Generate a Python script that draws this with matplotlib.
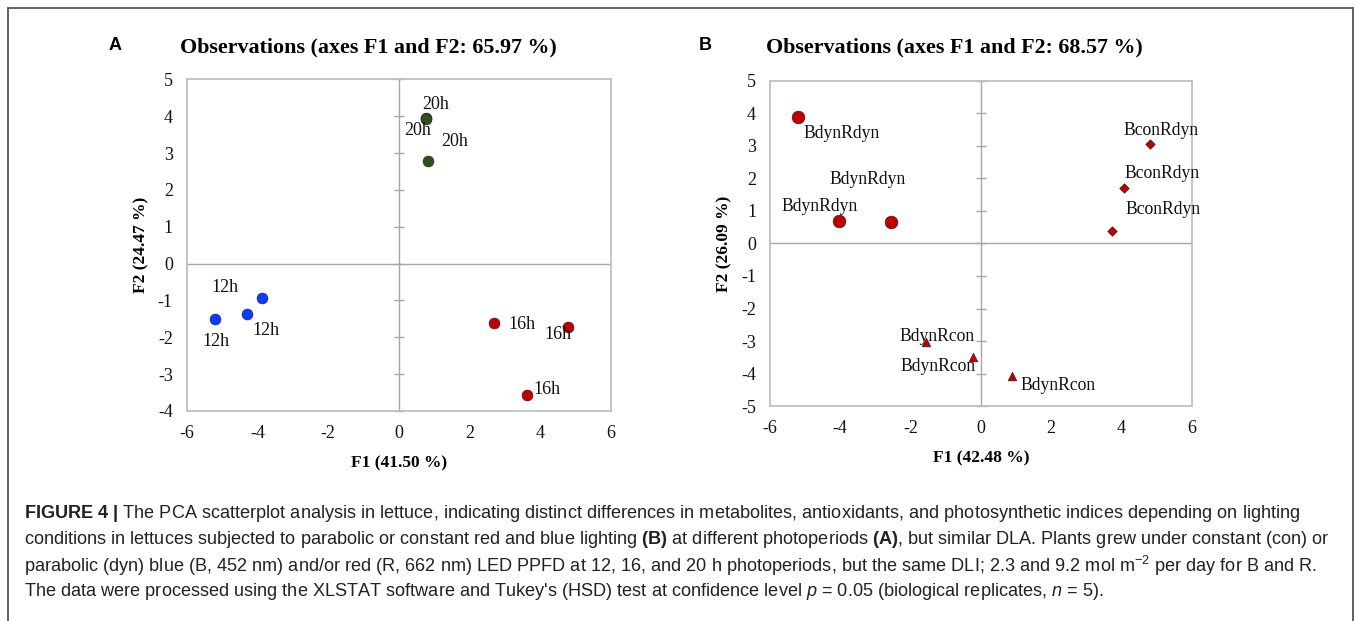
import matplotlib
matplotlib.use("Agg")
import matplotlib.pyplot as plt
from matplotlib.patches import Rectangle

plt.rcParams['font.family'] = ['Liberation Serif', 'DejaVu Serif']
plt.rcParams['axes.unicode_minus'] = False
plt.rcParams['mathtext.fontset'] = 'custom'
plt.rcParams['mathtext.rm'] = 'Liberation Sans'
plt.rcParams['mathtext.bf'] = 'Liberation Sans:bold'
plt.rcParams['mathtext.it'] = 'Liberation Sans:italic'

# panel A: photoperiods
a_labels = ["12h", "12h", "12h", "16h", "16h", "16h", "20h", "20h", "20h"]
a_f1 = [-3.86, -4.29, -5.20, 2.69, 4.79, 3.61, 0.76, 0.76, 0.83]
a_f2 = [-0.93, -1.37, -1.50, -1.61, -1.73, -3.56, 3.94, 3.92, 2.79]
a_colors = {"12h": "#0a3cff", "16h": "#c00000", "20h": "#2f4f1c"}
# label offsets in pixels (dx, dy up)
a_offsets = [(-37, 10), (19, -16), (1, -23), (28, -2), (-10, -7), (20, 5), (10, 14), (-8, -11), (26, 19)]

# panel B: lighting modes
b_labels = ["BdynRdyn"] * 3 + ["BconRdyn"] * 3 + ["BdynRcon"] * 3
b_f1 = [-5.19, -4.03, -2.56, 4.82, 4.07, 3.74, -1.57, -0.22, 0.89]
b_f2 = [3.90, 0.68, 0.65, 3.05, 1.72, 0.38, -3.02, -3.50, -4.08]
b_markers = {"BdynRdyn": ("o", 85), "BconRdyn": ("D", 24), "BdynRcon": ("^", 40)}
b_offsets = [(43, -17), (-20, 15), (-23, 43), (11, 14), (38, 14), (51, 22), (11, 5), (-35, -9), (46, -9)]

fig = plt.figure(figsize=(13.57, 6.21), dpi=100)


def draw_panel(ax, xs, ys, labels, offsets, colors, markers, ylim, yticks, xlabel, ylabel, lab_size):
    for x, y, lab, off in zip(xs, ys, labels, offsets):
        if markers:
            m, s = markers[lab]
            c = "#c00000"
        else:
            m, s = "o", 62
            c = colors[lab]
        ax.scatter(x, y, marker=m, s=s, color=c, edgecolor="#222222", linewidth=0.4, zorder=3)
        ax.annotate(lab, (x, y), xytext=off, textcoords="offset pixels",
                    ha="center", va="center", fontsize=lab_size, color="#111111")
    ax.set_xlim(-6, 6)
    ax.set_ylim(*ylim)
    ax.set_xticks(range(-6, 7, 2))
    ax.set_yticks(yticks)
    ax.axhline(0, color="#a6a6a6", lw=1.0, zorder=1)
    ax.axvline(0, color="#a6a6a6", lw=1.0, zorder=1)
    ax.scatter([0] * len(yticks), yticks, marker="_", s=60, color="#a6a6a6", lw=1.0, zorder=1, clip_on=False)
    for sp in ax.spines.values():
        sp.set_color("#c0c0c0")
        sp.set_linewidth(1.3)
    ax.tick_params(length=0, labelsize=13, pad=10, colors="#111111")
    ax.set_xlabel(xlabel, fontsize=12.5, fontweight="bold", labelpad=10)
    ax.set_ylabel(ylabel, fontsize=12.5, fontweight="bold", labelpad=6)


axA = fig.add_axes([0.1376, 0.3382, 0.3127, 0.5341])
draw_panel(axA, a_f1, a_f2, a_labels, a_offsets, a_colors, None, (-4, 5), list(range(-4, 6)),
           "F1 (41.50 %)", "F2 (24.47 %)", 13)

axB = fig.add_axes([0.5674, 0.3462, 0.3108, 0.5234])
draw_panel(axB, b_f1, b_f2, b_labels, b_offsets, None, b_markers, (-5, 5), list(range(-5, 6)),
           "F1 (42.48 %)", "F2 (26.09 %)", 12.7)

fig.text(368 / 1357, 1 - 47 / 621, "Observations (axes F1 and F2: 65.97 %)", fontsize=15.8,
         fontweight="bold", ha="center", va="center")
fig.text(954 / 1357, 1 - 47 / 621, "Observations (axes F1 and F2: 68.57 %)", fontsize=15.8,
         fontweight="bold", ha="center", va="center")

fig.text(115 / 1357, 1 - 45 / 621, "A", family="Liberation Sans", fontweight="bold", fontsize=13,
         ha="center", va="center")
fig.text(705 / 1357, 1 - 45 / 621, "B", family="Liberation Sans", fontweight="bold", fontsize=13,
         ha="center", va="center")

# outer frame
fig.patches.append(Rectangle((8 / 1357, -0.05), (1353 - 8) / 1357, 1.05 - 8 / 621,
                             transform=fig.transFigure, fill=False, edgecolor="#555555", lw=1.3))

caption = [
    r"$\mathbf{FIGURE\ 4\ |}$ The PCA scatterplot analysis in lettuce, indicating distinct differences in metabolites, antioxidants, and photosynthetic indices depending on lighting",
    r"conditions in lettuces subjected to parabolic or constant red and blue lighting $\mathbf{(B)}$ at different photoperiods $\mathbf{(A)}$, but similar DLA. Plants grew under constant (con) or",
    r"parabolic (dyn) blue (B, 452 nm) and/or red (R, 662 nm) LED PPFD at 12, 16, and 20 h photoperiods, but the same DLI; 2.3 and 9.2 mol m$^{-2}$ per day for B and R.",
    r"The data were processed using the XLSTAT software and Tukey's (HSD) test at confidence level $p$ = 0.05 (biological replicates, $n$ = 5).",
]
for i, line in enumerate(caption):
    fig.text(24 / 1357, 1 - (514 + 26 * i) / 621, line, family="Liberation Sans", fontsize=13.1,
             color="#222222", ha="left", va="center")

fig.savefig("out.png", dpi=100)
